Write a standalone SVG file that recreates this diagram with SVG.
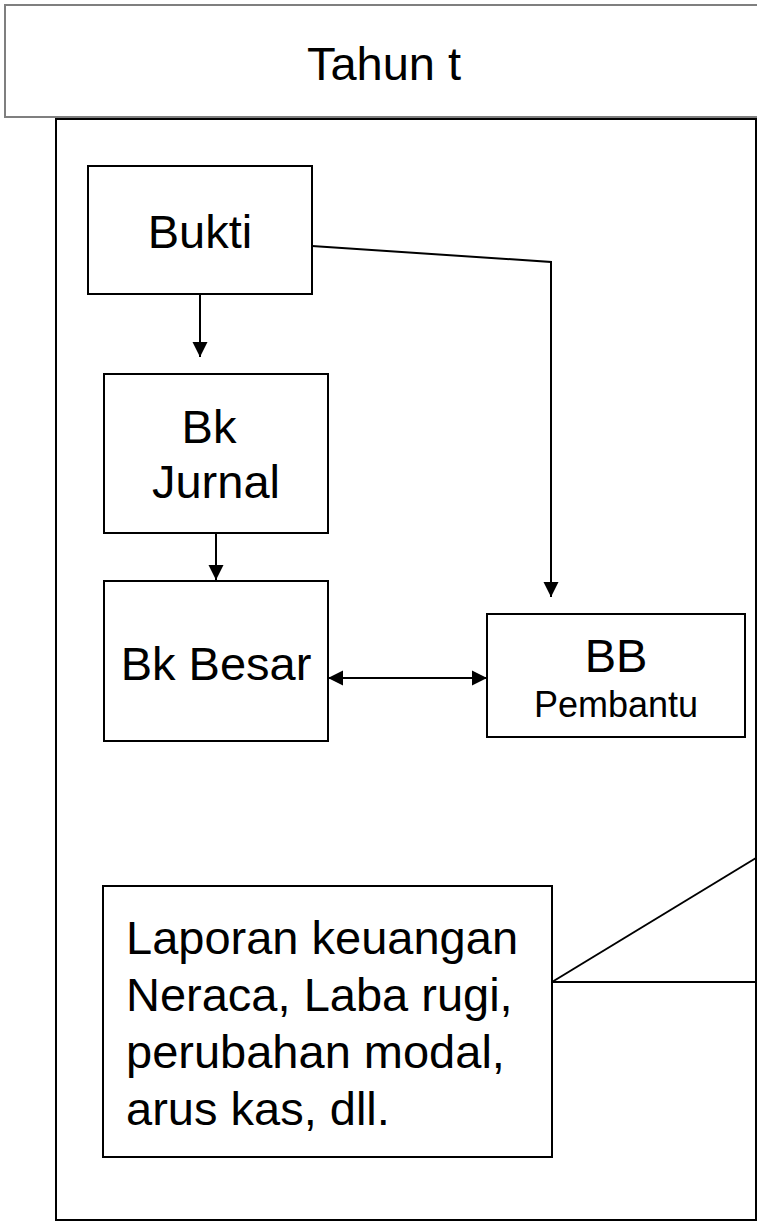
<svg xmlns="http://www.w3.org/2000/svg" width="757" height="1222" viewBox="0 0 757 1222">
  <style>
    .box { fill: #ffffff; stroke: #000000; stroke-width: 2; }
    .hdr { fill: #ffffff; stroke: #7f7f7f; stroke-width: 2; }
    .lbl { font-family: "Liberation Sans", Arial, sans-serif; font-size: 47px; fill: #000000; }
    .mid { text-anchor: middle; }
    .sm { font-size: 36px; }
    .ln { fill: none; stroke: #000000; stroke-width: 2; }
  </style>
  <defs>
    <marker id="arr" markerUnits="userSpaceOnUse" markerWidth="16" markerHeight="16" viewBox="0 0 16 16" refX="15" refY="8" orient="auto-start-reverse">
      <path d="M0,0.5 L15,8 L0,15.5 Z" fill="#000000"/>
    </marker>
  </defs>
  <rect width="757" height="1222" fill="#ffffff"/>

  <g id="header">
    <rect class="hdr" x="5" y="5" width="800" height="112"/>
    <text class="lbl mid" x="384" y="80">Tahun t</text>
  </g>

  <g id="container">
    <rect class="box" x="56" y="119" width="700" height="1101"/>
  </g>

  <g id="connectors">
    <line class="ln" x1="200" y1="294" x2="200" y2="357" marker-end="url(#arr)"/>
    <line class="ln" x1="216" y1="533" x2="216" y2="580" marker-end="url(#arr)"/>
    <polyline class="ln" points="312,246 551,262 551,597" marker-end="url(#arr)"/>
    <line class="ln" x1="328" y1="678" x2="487" y2="678" marker-start="url(#arr)" marker-end="url(#arr)"/>
    <line class="ln" x1="552" y1="982" x2="756" y2="858"/>
    <line class="ln" x1="552" y1="982" x2="756" y2="982"/>
  </g>

  <g id="bukti">
    <rect class="box" x="88" y="166" width="224" height="128"/>
    <text class="lbl mid" x="200" y="248">Bukti</text>
  </g>

  <g id="bk-jurnal">
    <rect class="box" x="104" y="374" width="224" height="159"/>
    <text class="lbl mid" x="209" y="443">Bk</text>
    <text class="lbl mid" x="216" y="498">Jurnal</text>
  </g>

  <g id="bk-besar">
    <rect class="box" x="104" y="581" width="224" height="160"/>
    <text class="lbl mid" x="216" y="680">Bk Besar</text>
  </g>

  <g id="bb-pembantu">
    <rect class="box" x="487" y="614" width="258" height="123"/>
    <text class="lbl mid" x="616" y="672">BB</text>
    <text class="lbl mid sm" x="616" y="717">Pembantu</text>
  </g>

  <g id="laporan">
    <rect class="box" x="103" y="886" width="449" height="271"/>
    <text class="lbl" x="126" y="954">Laporan keuangan</text>
    <text class="lbl" x="126" y="1011">Neraca, Laba rugi,</text>
    <text class="lbl" x="126" y="1068">perubahan modal,</text>
    <text class="lbl" x="126" y="1125">arus kas, dll.</text>
  </g>
</svg>
